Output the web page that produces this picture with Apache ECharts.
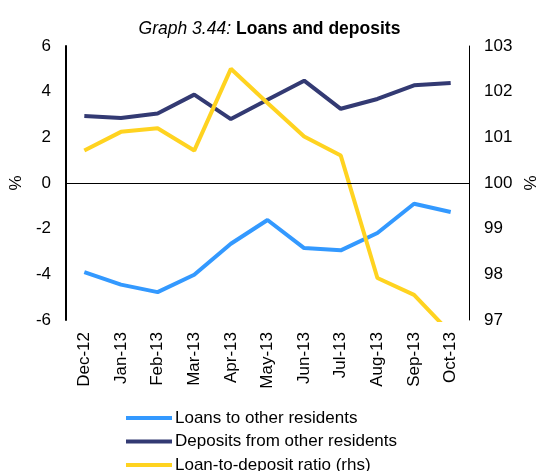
<!DOCTYPE html>
<html>
<head>
<meta charset="utf-8">
<script src="https://cdn.jsdelivr.net/npm/echarts@6/dist/echarts.min.js"></script>
<style>html,body{margin:0;padding:0;background:#fff}#c{width:539px;height:471px}</style>
</head>
<body>
<div id="c"></div>
<script>
const categories = ['Dec-12','Jan-13','Feb-13','Mar-13','Apr-13','May-13','Jun-13','Jul-13','Aug-13','Sep-13','Oct-13'];
const loans = [-3.90,-4.45,-4.78,-4.02,-2.66,-1.62,-2.85,-2.95,-2.19,-0.91,-1.27];
const deposits = [2.93,2.85,3.04,3.87,2.80,3.65,4.48,3.25,3.68,4.28,4.38];
const ratio = [100.71,101.12,101.20,100.71,102.50,101.75,101.02,100.60,97.92,97.55,96.71];
const FONT = '"Liberation Sans", Arial, sans-serif';

const chart = echarts.init(document.getElementById('c'));
chart.setOption({
  animation: false,
  backgroundColor: '#fff',
  title: {
    text: '{i|Graph 3.44:} {b|Loans and deposits}',
    left: 'center',
    top: 15,
    textStyle: {
      fontWeight: 'normal',
      rich: {
        i: {fontFamily: FONT, fontSize: 17.5, fontStyle: 'italic', fontWeight: 'normal', color: '#000'},
        b: {fontFamily: FONT, fontSize: 17.5, fontWeight: 'bold', color: '#000'}
      }
    }
  },
  grid: {left: 66, right: 70, top: 46, bottom: 151, containLabel: false, outerBoundsMode: 'none'},
  legend: {
    orient: 'vertical',
    left: 126,
    top: 409,
    height: 90,
    padding: 0,
    itemWidth: 46,
    itemHeight: 12,
    itemGap: 5.5,
    icon: 'path://M0,0 L46,0 L46,4 L0,4 Z',
    textStyle: {fontFamily: FONT, fontSize: 17, lineHeight: 18, color: '#000', padding: [0,0,0,-2]},
    data: ['Loans to other residents','Deposits from other residents','Loan-to-deposit ratio (rhs)']
  },
  xAxis: {
    type: 'category',
    data: categories,
    boundaryGap: true,
    axisLine: {show: false},
    axisTick: {show: false},
    axisLabel: {rotate: 90, fontFamily: FONT, fontSize: 17, color: '#000', margin: 12},
    splitLine: {show: false}
  },
  yAxis: [
    {
      type: 'value', min: -6, max: 6, interval: 2,
      name: '%', nameLocation: 'middle', nameGap: 39, nameRotate: 90,
      nameTextStyle: {fontFamily: FONT, fontSize: 17, color: '#000'},
      axisLine: {show: true, lineStyle: {color: '#000', width: 2}},
      axisTick: {show: false},
      axisLabel: {fontFamily: FONT, fontSize: 17, color: '#000', margin: 15},
      splitLine: {show: false}
    },
    {
      type: 'value', min: 97, max: 103, interval: 1, position: 'right',
      name: '%', nameLocation: 'middle', nameGap: 46, nameRotate: 90,
      nameTextStyle: {fontFamily: FONT, fontSize: 17, color: '#000'},
      axisLine: {show: true, lineStyle: {color: '#000', width: 1}},
      axisTick: {show: false},
      axisLabel: {fontFamily: FONT, fontSize: 17, color: '#000', margin: 15},
      splitLine: {show: false}
    }
  ],
  series: [
    {
      name: 'Loans to other residents', type: 'line', yAxisIndex: 0, data: loans,
      symbol: 'none', lineStyle: {color: '#3399FF', width: 4}, itemStyle: {color: '#3399FF'},
      markLine: {silent: true, symbol: 'none', label: {show: false},
        lineStyle: {color: '#000', width: 1, type: 'solid'}, data: [{yAxis: 0}]},
      z: 3
    },
    {
      name: 'Deposits from other residents', type: 'line', yAxisIndex: 0, data: deposits,
      symbol: 'none', lineStyle: {color: '#333A73', width: 4}, itemStyle: {color: '#333A73'}, z: 3
    },
    {
      name: 'Loan-to-deposit ratio (rhs)', type: 'line', yAxisIndex: 1, data: ratio,
      symbol: 'none', clip: true, lineStyle: {color: '#FFD320', width: 4}, itemStyle: {color: '#FFD320'}, z: 3
    }
  ]
});
</script>
</body>
</html>
